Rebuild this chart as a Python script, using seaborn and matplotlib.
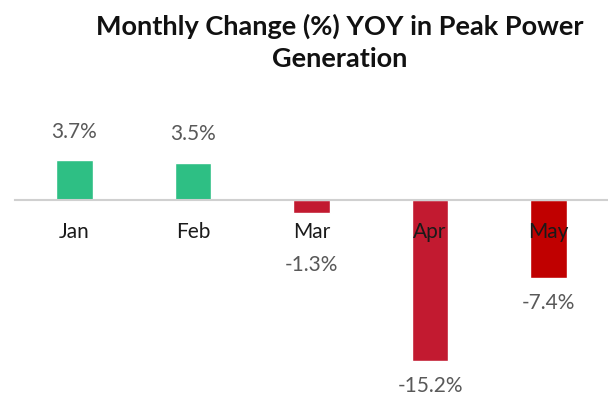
import matplotlib
matplotlib.use("Agg")
import matplotlib.pyplot as plt
import seaborn as sns
import pandas as pd

months = ["Jan", "Feb", "Mar", "Apr", "May"]
change = [3.7, 3.5, -1.3, -15.2, -7.4]
bar_colors = ["#2EBF84", "#2EBF84", "#C21A30", "#C21A30", "#C00000"]
label_pad = [13, 13, 30, 11, 11]

sns.set_style("white")
plt.rcParams["font.family"] = ["Lato", "DejaVu Sans"]

df = pd.DataFrame({"month": months, "change": change})

fig = plt.figure(figsize=(6.08, 4.01), dpi=100)
ax = fig.add_axes([15 / 608, 0.0, 593 / 608, 301 / 401])
sns.barplot(data=df, x="month", y="change", hue="month",
            palette=bar_colors, width=0.31, legend=False, ax=ax,
            saturation=1)

for cont, val, pad in zip(ax.containers, change, label_pad):
    ax.bar_label(cont, labels=[f"{val:.1f}%"], padding=pad,
                 fontsize=15, color="#595959")

ax.set_xlim(-0.5, 4.5)
ax.set_ylim(-19, 9.4)
ax.set_axisbelow(False)
for s in ["top", "right", "left"]:
    ax.spines[s].set_visible(False)
ax.spines["bottom"].set_position(("data", 0))
ax.spines["bottom"].set_color("#D0D0D0")
ax.spines["bottom"].set_linewidth(1.5)
ax.set_yticks([])
ax.tick_params(axis="x", length=0, pad=16, labelsize=15, labelcolor="#1a1a1a")
ax.set_xlabel("")
ax.set_ylabel("")

fig.text(0.559, 0.965, "Monthly Change (%) YOY in Peak Power\nGeneration",
         ha="center", va="top", fontsize=19.5, fontweight="bold",
         color="#111111", linespacing=1.4)

fig.savefig("out.png", dpi=100)
